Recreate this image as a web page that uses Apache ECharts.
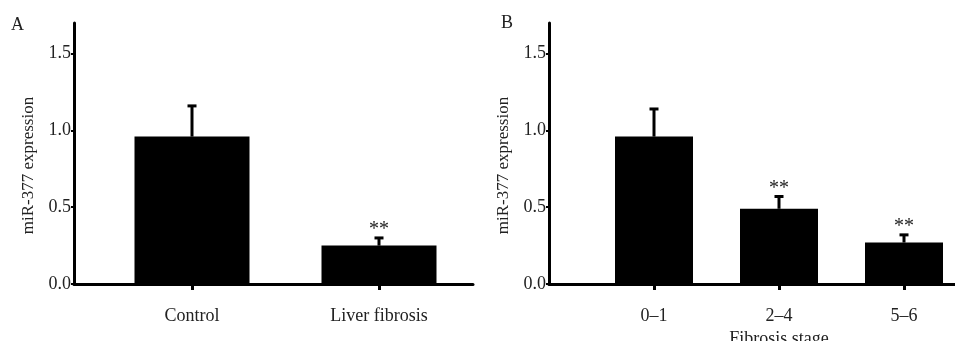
<!DOCTYPE html>
<html><head><meta charset="utf-8">
<script src="https://cdn.jsdelivr.net/npm/echarts@6/dist/echarts.min.js"></script>
<style>html,body{margin:0;padding:0;background:#fff}#c{width:955px;height:341px}</style>
</head><body><div id="c"></div>
<script>
const catsA = ['Control', 'Liver fibrosis'];
const meanA = [0.96, 0.25];
const upperA = [1.16, 0.30];
const sigA = ['', '**'];

const catsB = ['0\u20131', '2\u20134', '5\u20136'];
const meanB = [0.96, 0.49, 0.27];
const upperB = [1.14, 0.57, 0.32];
const sigB = ['', '**', '**'];

const yMin = 0, yMax = 1.7, yStep = 0.5;
const yTickLabels = ['0.0', '0.5', '1.0', '1.5'];
const yName = 'miR-377 expression';
const xNameB = 'Fibrosis stage';

const FONT = "'Liberation Serif', 'DejaVu Serif', serif";
const INK = '#000';
const TXT = '#222';

const chart = echarts.init(document.getElementById('c'), null, {renderer: 'canvas'});

function errSeries(xi, yi, means, uppers, sigs) {
  return {
    type: 'custom', xAxisIndex: xi, yAxisIndex: yi, z: 5,
    data: means.map((m, i) => [i, m, uppers[i]]),
    renderItem(params, api) {
      const i = api.value(0);
      const base = api.coord([i, api.value(1)]);
      const top = api.coord([i, api.value(2)]);
      const ch = [
        {type: 'line', shape: {x1: base[0], y1: base[1], x2: top[0], y2: top[1]}, style: {stroke: INK, lineWidth: 3}},
        {type: 'line', shape: {x1: top[0] - 4.5, y1: top[1], x2: top[0] + 4.5, y2: top[1]}, style: {stroke: INK, lineWidth: 3}}
      ];
      const s = sigs[params.dataIndex];
      if (s) ch.push({type: 'text', x: top[0], y: top[1] + 2,
        style: {text: s, fill: TXT, font: '20px ' + FONT, align: 'center', verticalAlign: 'bottom'}});
      return {type: 'group', children: ch};
    }
  };
}

const gTop = 23, gBottom = 57;
const yAxisVisible = (gi) => ({
  type: 'value', gridIndex: gi, min: yMin, max: yMax, interval: yStep,
  name: yName, nameLocation: 'middle', nameGap: 37,
  nameTextStyle: {fontFamily: FONT, fontSize: 17, color: TXT, padding: [0, 24, 0, 0]},
  axisLine: {show: true, lineStyle: {color: INK, width: 3}},
  axisTick: {show: true, length: 3, lineStyle: {color: INK, width: 2}},
  axisLabel: {fontFamily: FONT, fontSize: 18, color: TXT, margin: 3, showMaxLabel: false,
    formatter: v => { const k = Math.round(v / yStep); return Math.abs(v - k * yStep) < 1e-6 ? (yTickLabels[k] || '') : ''; }},
  splitLine: {show: false}
});
const yAxisHidden = (gi) => ({
  type: 'value', gridIndex: gi, min: yMin, max: yMax, interval: yStep, show: false
});
const xAxisLine = (gi) => ({
  type: 'value', gridIndex: gi, min: 0, max: 1,
  axisLine: {show: true, onZero: false, lineStyle: {color: INK, width: 3}},
  axisTick: {show: false}, axisLabel: {show: false}, splitLine: {show: false}
});
const xAxisCat = (gi, cats, name) => ({
  type: 'category', gridIndex: gi, data: cats,
  name: name || '', nameLocation: 'middle', nameGap: 45,
  nameTextStyle: {fontFamily: FONT, fontSize: 18, color: TXT},
  axisLine: {show: false},
  axisTick: {show: true, alignWithLabel: true, length: 6, lineStyle: {color: INK, width: 3}},
  axisLabel: {fontFamily: FONT, fontSize: 18, color: TXT, margin: 23}
});

const G = {top: gTop, bottom: gBottom, outerBoundsMode: 'none', containLabel: false};
chart.setOption({
  animation: false,
  backgroundColor: '#fff',
  grid: [
    Object.assign({left: 74, right: 482}, G),
    Object.assign({left: 98.5, width: 374}, G),
    Object.assign({left: 549, right: 0}, G),
    Object.assign({left: 591.5, width: 375}, G)
  ],
  xAxis: [xAxisLine(0), xAxisCat(1, catsA), xAxisLine(2), xAxisCat(3, catsB, xNameB)],
  yAxis: [yAxisVisible(0), yAxisHidden(1), yAxisVisible(2), yAxisHidden(3)],
  graphic: [
    {type: 'text', left: 11, top: 16, style: {text: 'A', font: '18px ' + FONT, fill: TXT}},
    {type: 'text', left: 501, top: 14, style: {text: 'B', font: '18px ' + FONT, fill: TXT}}
  ],
  series: [
    {type: 'bar', xAxisIndex: 1, yAxisIndex: 1, data: meanA, barWidth: 115, itemStyle: {color: INK}},
    errSeries(1, 1, meanA, upperA, sigA),
    {type: 'bar', xAxisIndex: 3, yAxisIndex: 3, data: meanB, barWidth: 78, itemStyle: {color: INK}},
    errSeries(3, 3, meanB, upperB, sigB)
  ]
});
</script></body></html>
